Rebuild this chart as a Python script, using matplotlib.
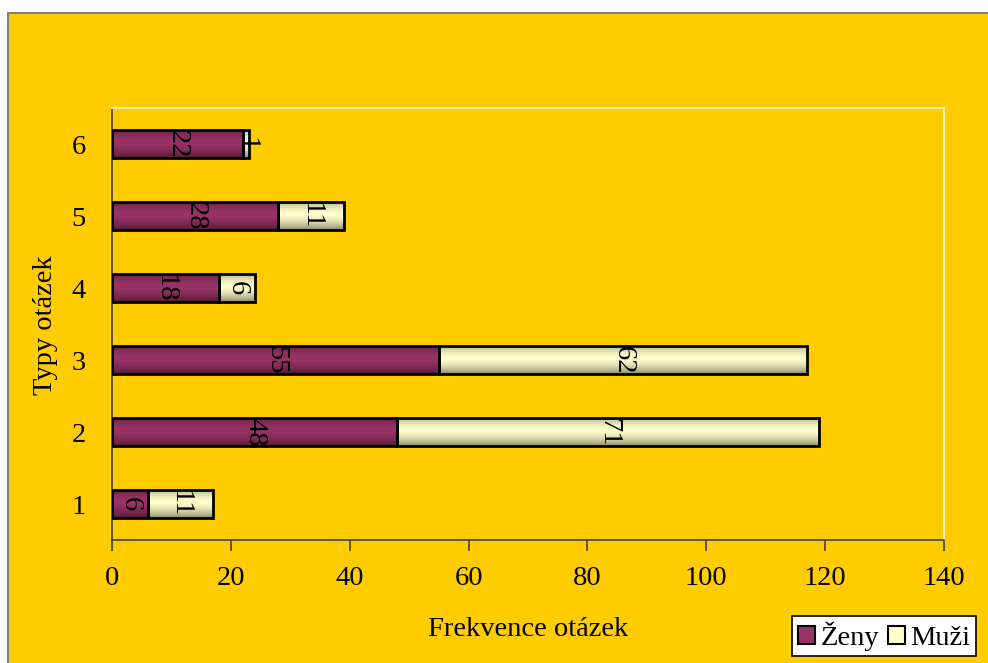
import matplotlib
matplotlib.use('Agg')
from matplotlib import pyplot as plt
from matplotlib.patches import Rectangle, Patch
import numpy as np

# --------------------------- Data ---------------------------

categories = ['1', '2', '3', '4', '5', '6']
zeny = [6, 48, 55, 18, 28, 22]
muzi = [11, 71, 62, 6, 11, 1]
x_ticks = [0, 20, 40, 60, 80, 100, 120, 140]

# -------------------------- Styling --------------------------

plt.rcParams['font.family'] = ['Liberation Serif', 'DejaVu Serif']
BG = '#FFCC00'
ZENY_COLOR = '#993366'
MUZI_COLOR = '#FFFFCC'
FS = 20.5


# Paints a vertical shading over a bar, darker towards its long edges.
def shade_bar(ax, bar, color):
    base = np.array(matplotlib.colors.to_rgb(color))
    t = np.linspace(0, 1, 64)
    light = 1 - 0.45 * (np.abs(t - 0.55) / 0.55) ** 1.6
    img = (base[None, :] * light[:, None])[:, None, :]
    x0, y0 = bar.get_x(), bar.get_y()
    w, h = bar.get_width(), bar.get_height()
    im = ax.imshow(img, extent=(x0, x0 + w, y0, y0 + h), aspect='auto',
                   origin='lower', zorder=3, interpolation='bilinear')
    im.set_clip_path(bar)


fig = plt.figure(figsize=(9.88, 6.63), dpi=100)
fig.patch.set_facecolor('white')

# Chart area frame (gray on top/left edges)
fig.patches.append(Rectangle((8 / 988, -0.1), 1.1, (663 - 13) / 663 + 0.1,
                             transform=fig.transFigure, facecolor=BG,
                             edgecolor='#7f7f7f', linewidth=1.5, zorder=-5))

ax = fig.add_axes([112 / 988, 1 - 540 / 663, (944 - 112) / 988, (540 - 108) / 663])
ax.set_zorder(2)
ax.set_facecolor(BG)

pos = list(range(1, len(categories) + 1))
h = 0.4
bars_z = ax.barh(pos, zeny, height=h, color=ZENY_COLOR, edgecolor='none', zorder=2)
bars_m = ax.barh(pos, muzi, height=h, left=zeny, color=MUZI_COLOR, edgecolor='none', zorder=2)
for b in bars_z:
    shade_bar(ax, b, ZENY_COLOR)
for b in bars_m:
    shade_bar(ax, b, MUZI_COLOR)
# Outlines on top of the shading
ax.barh(pos, zeny, height=h, fill=False, edgecolor='black', linewidth=2, zorder=4)
ax.barh(pos, muzi, height=h, left=zeny, fill=False, edgecolor='black', linewidth=2, zorder=4)

# Value labels, rotated inside each segment
for i in range(len(pos)):
    ax.text(zeny[i] / 2, pos[i], str(zeny[i]), rotation=270, ha='center', va='center',
            fontsize=FS, zorder=5)
    ax.text(zeny[i] + muzi[i] / 2, pos[i], str(muzi[i]), rotation=270, ha='center', va='center',
            fontsize=FS, zorder=5)

ax.set_xlim(0, 140)
ax.set_ylim(0.5, 6.5)
ax.set_xticks(x_ticks)
ax.set_xticklabels([str(t) for t in x_ticks], fontsize=FS)
ax.set_yticks(pos)
ax.set_yticklabels(categories, fontsize=FS)
ax.tick_params(axis='x', direction='out', length=8, width=1.2, color='#404040', pad=11)
ax.tick_params(axis='y', length=0, pad=19)

for side in ['left', 'bottom']:
    ax.spines[side].set_color('#404040')
    ax.spines[side].set_linewidth(1.2)
for side in ['top', 'right']:
    ax.spines[side].set_color('#FFF2B0')
    ax.spines[side].set_linewidth(1.5)

fig.text(528 / 988, 1 - 630 / 663, 'Frekvence otázek', ha='center', va='center', fontsize=FS)
fig.text(45 / 988, 1 - 325 / 663, 'Typy otázek', ha='center', va='center', rotation=90, fontsize=FS)

handles = [Patch(facecolor=ZENY_COLOR, edgecolor='black', linewidth=1.5),
           Patch(facecolor=MUZI_COLOR, edgecolor='black', linewidth=1.5)]
leg = fig.legend(handles, ['Ženy', 'Muži'], loc='center', bbox_to_anchor=(884 / 988, 1 - 636 / 663),
                 ncol=2, fontsize=FS, frameon=True, fancybox=False, handlelength=0.6,
                 handleheight=0.6, handletextpad=0.2, columnspacing=0.3, borderpad=0.2,
                 borderaxespad=0, framealpha=1)
leg.get_frame().set_edgecolor('black')
leg.get_frame().set_linewidth(1.2)
leg.get_frame().set_facecolor('white')

fig.savefig('out.png', dpi=100, facecolor=fig.get_facecolor())
